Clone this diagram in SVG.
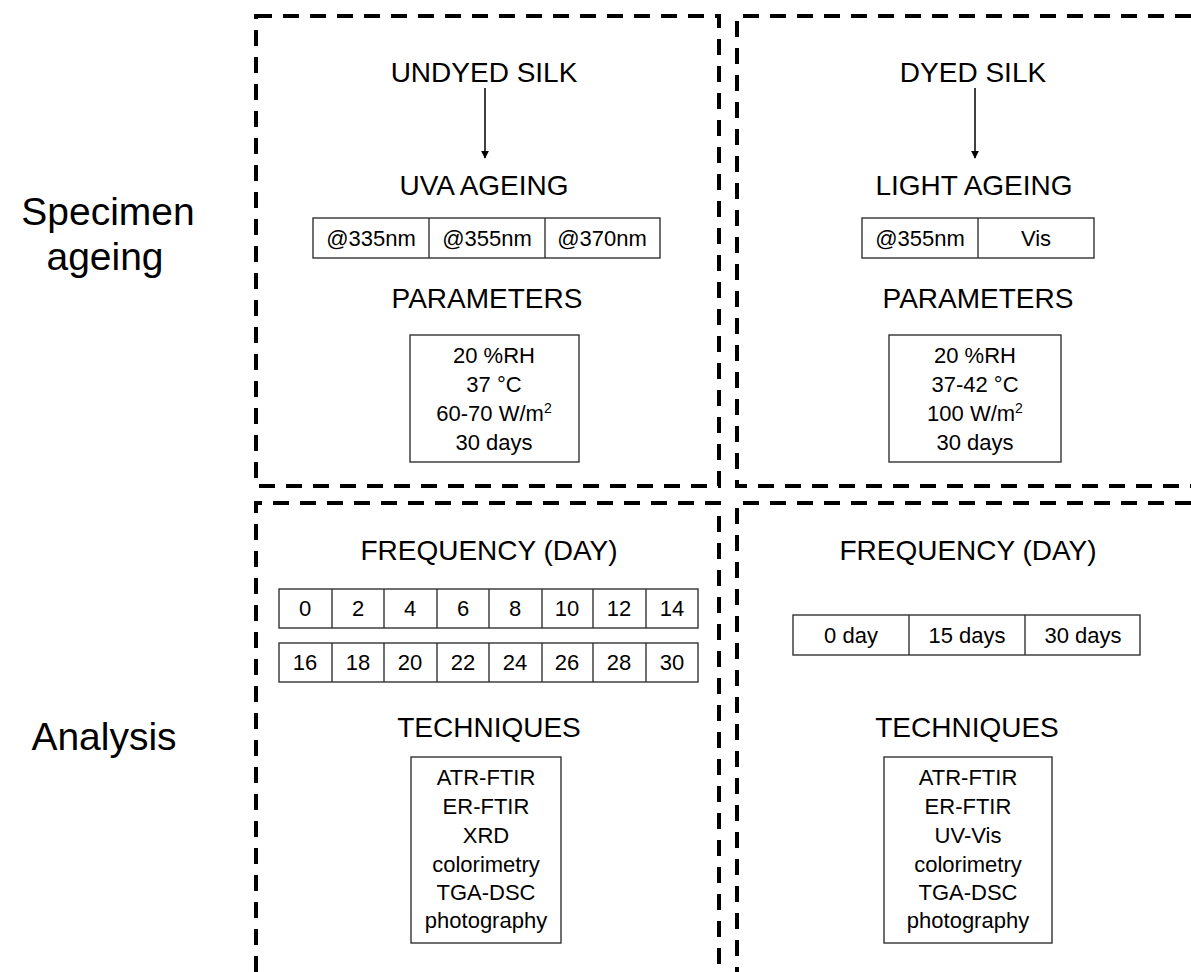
<svg xmlns="http://www.w3.org/2000/svg" width="1191" height="972" viewBox="0 0 1191 972">
  <defs>
    <marker id="arrowhead" viewBox="0 0 10 10" refX="9" refY="5" markerWidth="8" markerHeight="8" markerUnits="userSpaceOnUse" orient="auto">
      <path d="M0,0 L10,5 L0,10 z" fill="#000"/>
    </marker>
  </defs>
  <style>
    text { font-family: "Liberation Sans", Arial, sans-serif; fill: #000; text-anchor: middle; }
    .head { font-size: 28px; }
    .side { font-size: 39px; }
    .cell { font-size: 22px; }
    .dash { fill: none; stroke: #000; stroke-width: 4; stroke-dasharray: 16 11; }
    .box { fill: #fff; stroke: #333; stroke-width: 1.4; }
    .div { stroke: #333; stroke-width: 1.4; }
    .conn { stroke: #000; stroke-width: 1.5; fill: none; }
  </style>
  <rect width="1191" height="972" fill="#fff"/>

  <!-- Row labels -->
  <g id="label-specimen">
    <text class="side" x="108" y="225">Specimen</text>
    <text class="side" x="105" y="270">ageing</text>
  </g>
  <g id="label-analysis">
    <text class="side" x="104" y="750">Analysis</text>
  </g>

  <!-- Dashed quadrant frames -->
  <g id="frames">
    <path class="dash" d="M256,16 H719 V486 H256 Z"/>
    <path class="dash" d="M1191,16 H737 V486 H1191"/>
    <path class="dash" d="M256,972 V503 H719 V972"/>
    <path class="dash" d="M1191,503 H737 V972"/>
  </g>

  <!-- Undyed silk: ageing -->
  <g id="undyed-silk">
    <text class="head" x="484" y="82">UNDYED SILK</text>
  </g>
  <g id="uva-ageing">
    <text class="head" x="484" y="195">UVA AGEING</text>
    <rect class="box" x="313" y="218" width="347" height="40"/>
    <line class="div" x1="429" y1="218" x2="429" y2="258"/>
    <line class="div" x1="545" y1="218" x2="545" y2="258"/>
    <text class="cell" x="371" y="246">@335nm</text>
    <text class="cell" x="487" y="246">@355nm</text>
    <text class="cell" x="602" y="246">@370nm</text>
  </g>
  <g id="uva-parameters">
    <text class="head" x="487" y="308">PARAMETERS</text>
    <rect class="box" x="410" y="335" width="169" height="127"/>
    <text class="cell" x="494" y="363">20 %RH</text>
    <text class="cell" x="494" y="392">37 °C</text>
    <text class="cell" x="494" y="421">60-70 W/m<tspan font-size="14" dy="-8">2</tspan></text>
    <text class="cell" x="494" y="450">30 days</text>
  </g>

  <!-- Dyed silk: ageing -->
  <g id="dyed-silk">
    <text class="head" x="973" y="82">DYED SILK</text>
  </g>
  <g id="light-ageing">
    <text class="head" x="974" y="195">LIGHT AGEING</text>
    <rect class="box" x="862" y="218" width="232" height="40"/>
    <line class="div" x1="978" y1="218" x2="978" y2="258"/>
    <text class="cell" x="920" y="246">@355nm</text>
    <text class="cell" x="1036" y="246">Vis</text>
  </g>
  <g id="light-parameters">
    <text class="head" x="978" y="308">PARAMETERS</text>
    <rect class="box" x="889" y="335" width="172" height="127"/>
    <text class="cell" x="975" y="363">20 %RH</text>
    <text class="cell" x="975" y="392">37-42 °C</text>
    <text class="cell" x="975" y="421">100 W/m<tspan font-size="14" dy="-8">2</tspan></text>
    <text class="cell" x="975" y="450">30 days</text>
  </g>

  <!-- Undyed silk: analysis -->
  <g id="uva-frequency">
    <text class="head" x="489" y="560">FREQUENCY (DAY)</text>
    <rect class="box" x="279" y="589" width="419" height="39"/>
    <rect class="box" x="279" y="643" width="419" height="39"/>
    <path class="div" d="M332,589 V628 M384,589 V628 M437,589 V628 M489,589 V628 M542,589 V628 M593,589 V628 M646,589 V628"/>
    <path class="div" d="M332,643 V682 M384,643 V682 M437,643 V682 M489,643 V682 M542,643 V682 M593,643 V682 M646,643 V682"/>
    <text class="cell" x="305" y="616">0</text>
    <text class="cell" x="358" y="616">2</text>
    <text class="cell" x="410" y="616">4</text>
    <text class="cell" x="463" y="616">6</text>
    <text class="cell" x="515" y="616">8</text>
    <text class="cell" x="567" y="616">10</text>
    <text class="cell" x="619" y="616">12</text>
    <text class="cell" x="672" y="616">14</text>
    <text class="cell" x="305" y="670">16</text>
    <text class="cell" x="358" y="670">18</text>
    <text class="cell" x="410" y="670">20</text>
    <text class="cell" x="463" y="670">22</text>
    <text class="cell" x="515" y="670">24</text>
    <text class="cell" x="567" y="670">26</text>
    <text class="cell" x="619" y="670">28</text>
    <text class="cell" x="672" y="670">30</text>
  </g>
  <g id="uva-techniques">
    <text class="head" x="489" y="737">TECHNIQUES</text>
    <rect class="box" x="411" y="757" width="150" height="186"/>
    <text class="cell" x="486" y="785">ATR-FTIR</text>
    <text class="cell" x="486" y="814">ER-FTIR</text>
    <text class="cell" x="486" y="843">XRD</text>
    <text class="cell" x="486" y="872">colorimetry</text>
    <text class="cell" x="486" y="900">TGA-DSC</text>
    <text class="cell" x="486" y="928">photography</text>
  </g>

  <!-- Dyed silk: analysis -->
  <g id="light-frequency">
    <text class="head" x="968" y="560">FREQUENCY (DAY)</text>
    <rect class="box" x="793" y="615" width="347" height="40"/>
    <line class="div" x1="909" y1="615" x2="909" y2="655"/>
    <line class="div" x1="1025" y1="615" x2="1025" y2="655"/>
    <text class="cell" x="851" y="643">0 day</text>
    <text class="cell" x="967" y="643">15 days</text>
    <text class="cell" x="1083" y="643">30 days</text>
  </g>
  <g id="light-techniques">
    <text class="head" x="967" y="737">TECHNIQUES</text>
    <rect class="box" x="884" y="757" width="168" height="186"/>
    <text class="cell" x="968" y="785">ATR-FTIR</text>
    <text class="cell" x="968" y="814">ER-FTIR</text>
    <text class="cell" x="968" y="843">UV-Vis</text>
    <text class="cell" x="968" y="872">colorimetry</text>
    <text class="cell" x="968" y="900">TGA-DSC</text>
    <text class="cell" x="968" y="928">photography</text>
  </g>

  <!-- Connectors -->
  <g id="connectors">
    <line class="conn" x1="485" y1="88" x2="485" y2="158" marker-end="url(#arrowhead)"/>
    <line class="conn" x1="975" y1="88" x2="975" y2="158" marker-end="url(#arrowhead)"/>
  </g>
</svg>
